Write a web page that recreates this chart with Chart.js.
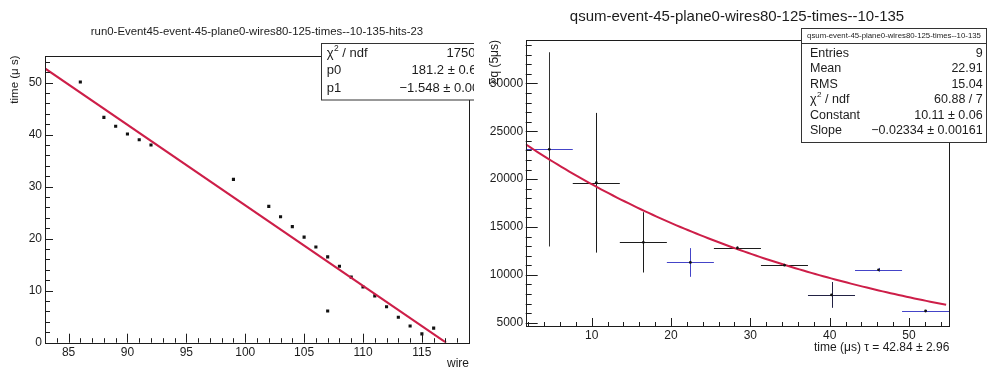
<!DOCTYPE html>
<html>
<head>
<meta charset="utf-8">
<script src="https://cdn.jsdelivr.net/npm/chart.js@4.4.1/dist/chart.umd.min.js"></script>
<style>
html, body { margin: 0; padding: 0; background: #fff; }
#wrap { position: relative; width: 987px; height: 371px; overflow: hidden; }
canvas { position: absolute; top: 0; }
#hits { left: 0; }
#qsum { left: 476px; }
</style>
</head>
<body>
<div id="wrap">
  <canvas id="hits" width="474" height="371"></canvas>
  <canvas id="qsum" width="511" height="371"></canvas>
</div>
<script>
// left pad: hit time vs wire
const wires = [86, 88, 89, 90, 91, 92, 99, 102, 103, 104, 105, 106, 107, 107, 108, 109, 110, 111, 112, 113, 114, 115, 116];
const hitTimes = [50.1, 43.3, 41.6, 40.1, 39.0, 38.0, 31.4, 26.2, 24.2, 22.3, 20.3, 18.4, 16.5, 6.1, 14.7, 12.6, 10.7, 9.0, 6.9, 4.9, 3.2, 1.7, 2.8];
const wireTicks = [85, 90, 95, 100, 105, 110, 115];
const timeTicks = [0, 10, 20, 30, 40, 50];
const lineFit = { p0: 181.2, p1: -1.548 };

// right pad: charge sum per time bin
const binCenters = [4.65, 10.58, 16.51, 22.44, 28.37, 34.30, 40.23, 46.16, 52.09];
const qsum = [23110, 19620, 13390, 11290, 12800, 11010, 7900, 10520, 6220];
const qsumErr = [10150, 7300, 3150, 1500, 150, 100, 1350, 200, 100];
const binHalfWidth = 2.965;
const binTicks = [10, 20, 30, 40, 50];
const qTicks = [5000, 10000, 15000, 20000, 25000, 30000];
const expFit = { constant: 10.11, slope: -0.02334 };

const FONT = '"Liberation Sans", Arial, Helvetica, sans-serif';
const INK = '#1c1c1c';
const RED = 'rgb(205,30,72)';
const BLUE = '#4444c8';
// bar colours per bin: [horizontal, vertical]
const barColors = [[BLUE, '#333'], [INK, INK], [INK, INK], [BLUE, BLUE], [INK, INK], [INK, INK], ['#222244', '#222244'], [BLUE, BLUE], [BLUE, BLUE]];

function px(v) { return Math.round(v) + 0.5; }

function drawTicks(ctx, chart, t) {
  const a = chart.chartArea, x = chart.scales.x, y = chart.scales.y;
  ctx.strokeStyle = INK;
  ctx.lineWidth = 1;
  ctx.beginPath();
  for (let v = t.x.from; v <= t.x.to + 1e-9; v += t.x.step) {
    const X = px(x.getPixelForValue(v));
    const len = Math.abs(v % t.x.major) < 1e-6 ? t.x.L : t.x.l;
    ctx.moveTo(X, a.bottom); ctx.lineTo(X, a.bottom - len);
  }
  for (let v = t.y.from; v <= t.y.to + 1e-9; v += t.y.step) {
    const Y = px(y.getPixelForValue(v));
    const len = Math.abs(v % t.y.major) < 1e-6 ? t.y.L : t.y.l;
    ctx.moveTo(a.left, Y); ctx.lineTo(a.left + len, Y);
  }
  ctx.stroke();
  ctx.strokeRect(px(a.left), px(a.top), Math.round(a.right) - Math.round(a.left), Math.round(a.bottom) - Math.round(a.top));
}

function drawChi(ctx, x, y, size) {
  ctx.textAlign = 'left';
  ctx.font = size + 'px ' + FONT;
  ctx.fillText('χ', x, y);
  const w = ctx.measureText('χ').width;
  ctx.font = (size * 0.65) + 'px ' + FONT;
  ctx.fillText('2', x + w + 0.5, y - size * 0.38);
  const w2 = ctx.measureText('2').width;
  ctx.font = size + 'px ' + FONT;
  ctx.fillText(' / ndf', x + w + w2 + 0.5, y);
}

const hitsDecor = {
  id: 'hitsDecor',
  afterDraw(chart) {
    const ctx = chart.ctx;
    ctx.save();
    drawTicks(ctx, chart, {
      x: { from: 84, to: 118, step: 1, major: 5, L: 9, l: 4.5 },
      y: { from: 0, to: 54, step: 2, major: 10, L: 8, l: 5 }
    });
    ctx.fillStyle = INK;
    ctx.textBaseline = 'middle';
    ctx.textAlign = 'center';
    ctx.font = '11.4px ' + FONT;
    ctx.fillText('run0-Event45-event-45-plane0-wires80-125-times--10-135-hits-23', 257, 32);
    // stats box (cut by the pad edge)
    ctx.fillStyle = '#fff';
    ctx.fillRect(321.5, 43.5, 200, 56.5);
    ctx.strokeStyle = '#333';
    ctx.strokeRect(321.5, 43.5, 200, 56.5);
    ctx.fillStyle = INK;
    drawChi(ctx, 326.7, 53.5, 13);
    ctx.font = '13px ' + FONT;
    ctx.textAlign = 'left';
    ctx.fillText('p0', 326.7, 70.5);
    ctx.fillText('p1', 326.7, 88.3);
    ctx.fillText('1750 / 21', 446.5, 53.5);
    ctx.fillText('181.2 ± 0.6', 411.5, 70.5);
    ctx.fillText('−1.548 ± 0.005', 399.5, 88.3);
    ctx.restore();
  }
};

const qsumDecor = {
  id: 'qsumDecor',
  beforeDatasetsDraw(chart) {
    const ctx = chart.ctx, a = chart.chartArea, x = chart.scales.x, y = chart.scales.y;
    ctx.save();
    ctx.beginPath();
    ctx.rect(a.left, a.top, a.right - a.left, a.bottom - a.top);
    ctx.clip();
    ctx.lineWidth = 1;
    binCenters.forEach((c, i) => {
      const X = px(x.getPixelForValue(c));
      const Y = px(y.getPixelForValue(qsum[i]));
      ctx.strokeStyle = barColors[i][0];
      ctx.beginPath();
      ctx.moveTo(x.getPixelForValue(c - binHalfWidth), Y);
      ctx.lineTo(x.getPixelForValue(c + binHalfWidth), Y);
      ctx.stroke();
      ctx.strokeStyle = barColors[i][1];
      ctx.beginPath();
      ctx.moveTo(X, y.getPixelForValue(qsum[i] - qsumErr[i]));
      ctx.lineTo(X, y.getPixelForValue(qsum[i] + qsumErr[i]));
      ctx.stroke();
    });
    ctx.restore();
  },
  afterDraw(chart) {
    const ctx = chart.ctx;
    ctx.save();
    drawTicks(ctx, chart, {
      x: { from: 2, to: 54, step: 2, major: 10, L: 8, l: 4 },
      y: { from: 5000, to: 34000, step: 1000, major: 5000, L: 12, l: 6 }
    });
    ctx.fillStyle = INK;
    ctx.textBaseline = 'middle';
    ctx.textAlign = 'center';
    ctx.font = '15px ' + FONT;
    ctx.fillText('qsum-event-45-plane0-wires80-125-times--10-135', 261, 17);
    // stats box
    const bx = 325.5, by = 28.5, bw = 185, bh = 114;
    ctx.fillStyle = '#fff';
    ctx.fillRect(bx, by, bw, bh);
    ctx.strokeStyle = '#333';
    ctx.strokeRect(bx, by, bw, bh);
    ctx.beginPath();
    ctx.moveTo(bx, 43.5); ctx.lineTo(bx + bw, 43.5);
    ctx.stroke();
    ctx.fillStyle = INK;
    ctx.font = '7.8px ' + FONT;
    ctx.fillText('qsum-event-45-plane0-wires80-125-times--10-135', bx + bw / 2, 36);
    const rows = [['Entries', '9'], ['Mean', '22.91'], ['RMS', '15.04'], [null, '60.88 / 7'], ['Constant', '10.11 ± 0.06'], ['Slope', '−0.02334 ± 0.00161']];
    const rowY = [53.5, 69, 84.5, 100, 115.3, 130.3];
    rows.forEach((r, i) => {
      if (r[0] === null) drawChi(ctx, 334, rowY[i], 12.5);
      else {
        ctx.font = '12.5px ' + FONT;
        ctx.textAlign = 'left';
        ctx.fillText(r[0], 334, rowY[i]);
      }
      ctx.font = '12.5px ' + FONT;
      ctx.textAlign = 'right';
      ctx.fillText(r[1], 506.7, rowY[i]);
    });
    ctx.restore();
  }
};

function fixedTicks(list) {
  return scale => { scale.ticks = list.map(v => ({ value: v })); };
}

const tickFont = { family: FONT, size: 12 };

new Chart(document.getElementById('hits'), {
  type: 'scatter',
  data: {
    datasets: [{
      data: wires.map((w, i) => ({ x: w, y: hitTimes[i] })),
      pointStyle: 'rect',
      pointRadius: 2.2,
      pointBorderWidth: 0,
      backgroundColor: '#111',
      order: 2
    }, {
      type: 'line',
      data: [83, -lineFit.p0 / lineFit.p1].map(w => ({ x: w, y: lineFit.p0 + lineFit.p1 * w })),
      borderColor: RED,
      borderWidth: 2,
      pointRadius: 0,
      order: 1
    }]
  },
  options: {
    responsive: false,
    devicePixelRatio: 1,
    animation: false,
    layout: { padding: { top: 55.5, right: 5, left: 0, bottom: 0 } },
    plugins: { legend: { display: false }, tooltip: { enabled: false } },
    scales: {
      x: {
        type: 'linear', min: 83, max: 119,
        afterBuildTicks: fixedTicks(wireTicks),
        afterFit: s => { s.height = 28.3; },
        grid: { display: false, drawTicks: false }, border: { display: false },
        ticks: { font: tickFont, color: INK, padding: 3, autoSkip: false, maxRotation: 0, callback: v => String(v) },
        title: { display: true, text: 'wire', align: 'end', color: INK, font: { family: FONT, size: 12 }, padding: { top: 0, bottom: 0 } }
      },
      y: {
        type: 'linear', min: 0, max: 55.2,
        afterBuildTicks: fixedTicks(timeTicks),
        afterFit: s => { s.width = 45; },
        grid: { display: false, drawTicks: false }, border: { display: false },
        ticks: { font: tickFont, color: INK, padding: 3, autoSkip: false, callback: v => String(v) },
        title: { display: true, text: 'time (μ s)', align: 'end', color: INK, font: { family: FONT, size: 11.5 }, padding: { top: 8, bottom: 0 } }
      }
    }
  },
  plugins: [hitsDecor]
});

const fitXs = [];
for (let t = 1.68; t <= 55.1; t += 0.5) fitXs.push(t);

new Chart(document.getElementById('qsum'), {
  type: 'scatter',
  data: {
    datasets: [{
      data: binCenters.map((c, i) => ({ x: c, y: qsum[i] })),
      pointRadius: 1.4,
      pointBorderWidth: 0,
      backgroundColor: '#111',
      order: 1
    }, {
      type: 'line',
      data: fitXs.map(t => ({ x: t, y: Math.exp(expFit.constant + expFit.slope * t) })),
      borderColor: RED,
      borderWidth: 2,
      pointRadius: 0,
      tension: 0,
      order: 2
    }]
  },
  options: {
    responsive: false,
    devicePixelRatio: 1,
    animation: false,
    layout: { padding: { top: 40, right: 37.7, left: 0, bottom: 0 } },
    plugins: { legend: { display: false }, tooltip: { enabled: false } },
    scales: {
      x: {
        type: 'linear', min: 1.68, max: 55.08,
        afterBuildTicks: fixedTicks(binTicks),
        afterFit: s => { s.height = 45; },
        grid: { display: false, drawTicks: false }, border: { display: false },
        ticks: { font: tickFont, color: INK, padding: 2, autoSkip: false, maxRotation: 0, callback: v => String(v) },
        title: { display: true, text: 'time (μs) τ = 42.84 ± 2.96', align: 'end', color: INK, font: { family: FONT, size: 12 }, padding: { top: 0, bottom: 16 } }
      },
      y: {
        type: 'linear', min: 4650, max: 34540,
        afterBuildTicks: fixedTicks(qTicks),
        afterFit: s => { s.width = 49.7; },
        grid: { display: false, drawTicks: false }, border: { display: false },
        ticks: { font: tickFont, color: INK, padding: 2.5, autoSkip: false, callback: v => String(v) },
        title: { display: true, text: 'Σq (5μs)', align: 'end', color: INK, font: { family: FONT, size: 12 }, padding: { top: 11, bottom: 0 } }
      }
    }
  },
  plugins: [qsumDecor]
});
</script>
</body>
</html>
